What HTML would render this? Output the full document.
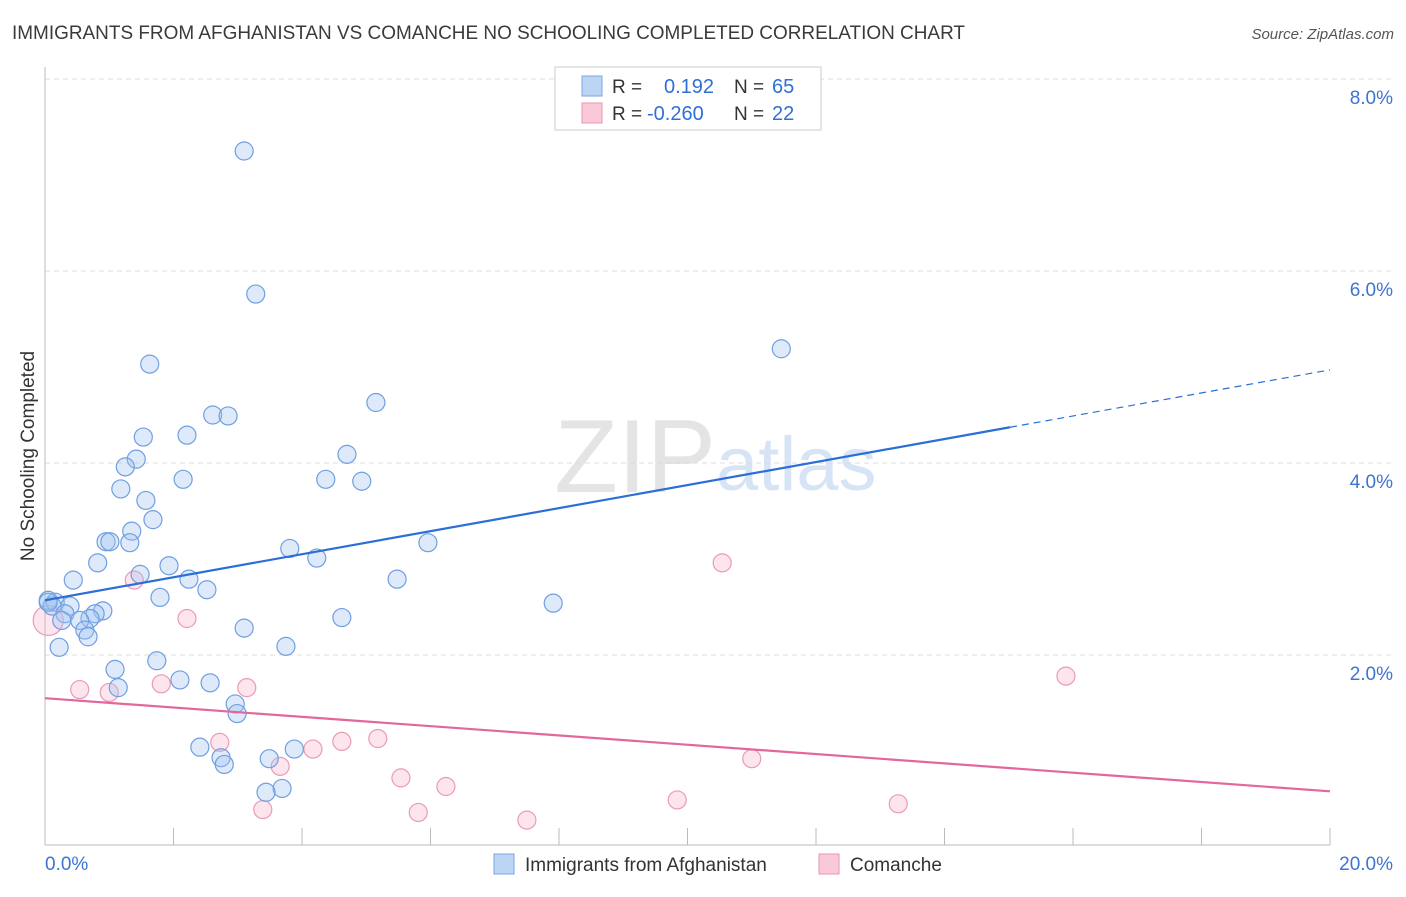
<!DOCTYPE html>
<html><head><meta charset="utf-8"><style>
body{margin:0;background:#fff;font-family:"Liberation Sans",sans-serif}
svg text{font-family:"Liberation Sans",sans-serif}
</style></head><body>
<svg id="chart" width="1406" height="892">
<text x="12" y="39" font-size="19" fill="#3a3a3a" textLength="953" lengthAdjust="spacingAndGlyphs">IMMIGRANTS FROM AFGHANISTAN VS COMANCHE NO SCHOOLING COMPLETED CORRELATION CHART</text>
<text x="1394" y="39" font-size="15" fill="#555" font-style="italic" text-anchor="end">Source: ZipAtlas.com</text>
<text x="716" y="492" font-size="104" fill="#e4e4e4" text-anchor="end" font-family="Liberation Serif">ZIP</text>
<text x="716" y="490" font-size="76" fill="#d6e4f5">atlas</text>
<text x="34" y="456" font-size="19" fill="#333" transform="rotate(-90 34 456)" text-anchor="middle">No Schooling Completed</text>
<g id="grid"></g><g id="pts"></g><g id="lines"></g>
<g>
<rect x="555" y="67" width="266" height="63" fill="#fff" stroke="#ccc"/>
<rect x="582" y="76" width="20" height="20" fill="#bcd5f5" stroke="#7aa7e0"/>
<rect x="582" y="103" width="20" height="20" fill="#f9c9d8" stroke="#eb96b2"/>
<text x="612" y="93" font-size="19" fill="#333">R = </text><text x="664" y="93" font-size="20" fill="#2f6fd6">0.192</text>
<text x="734" y="93" font-size="19" fill="#333">N = </text><text x="772" y="93" font-size="20" fill="#2f6fd6">65</text>
<text x="612" y="120" font-size="19" fill="#333">R = </text><text x="647" y="120" font-size="20" fill="#2f6fd6">-0.260</text>
<text x="734" y="120" font-size="19" fill="#333">N = </text><text x="772" y="120" font-size="20" fill="#2f6fd6">22</text>
</g>
<g>
<rect x="494" y="854" width="20" height="20" fill="#bcd5f5" stroke="#7aa7e0"/>
<text x="525" y="871" font-size="19" fill="#333">Immigrants from Afghanistan</text>
<rect x="819" y="854" width="20" height="20" fill="#f9c9d8" stroke="#eb96b2"/>
<text x="850" y="871" font-size="19" fill="#333">Comanche</text>
</g>
<text x="45" y="870" font-size="19" fill="#3d74d0">0.0%</text>
<text x="1393" y="870" font-size="19" fill="#3d74d0" text-anchor="end">20.0%</text>
</svg>
<script>
const blueX=[3.10,3.28,1.63,11.46,5.15,2.61,2.85,1.53,2.21,4.70,1.42,1.25,2.15,4.37,4.93,1.18,1.57,1.68,1.35,0.95,1.01,1.32,3.81,5.96,4.23,0.82,1.48,1.93,2.24,5.48,0.44,2.52,1.79,7.91,0.05,0.16,0.11,0.39,0.90,0.31,0.78,0.70,0.26,0.54,0.62,0.67,4.62,3.10,3.75,0.22,1.74,1.09,1.14,2.10,2.57,2.96,2.99,2.41,2.74,2.79,3.88,3.49,3.69,3.44,0.05];
const blueY=[7.25,5.76,5.03,5.19,4.63,4.50,4.49,4.27,4.29,4.09,4.04,3.96,3.83,3.83,3.81,3.73,3.61,3.41,3.29,3.18,3.18,3.17,3.11,3.17,3.01,2.96,2.84,2.93,2.79,2.79,2.78,2.68,2.60,2.54,2.57,2.55,2.51,2.51,2.46,2.43,2.43,2.38,2.36,2.36,2.26,2.19,2.39,2.28,2.09,2.08,1.94,1.85,1.66,1.74,1.71,1.49,1.39,1.04,0.93,0.86,1.02,0.92,0.61,0.57,2.55];
const pinkX=[0.05,1.39,2.21,10.54,15.89,0.54,1.00,1.81,3.14,2.72,4.17,4.62,5.18,3.66,5.54,6.24,11.00,9.84,13.28,3.39,5.81,7.50];
const pinkY=[2.36,2.78,2.38,2.96,1.78,1.64,1.61,1.70,1.66,1.09,1.02,1.10,1.13,0.84,0.72,0.63,0.92,0.49,0.45,0.39,0.36,0.28];
const yTicks=[2,4,6,8];
const yTickLabels=["2.0%","4.0%","6.0%","8.0%"];
const xTicks=[0,2,4,6,8,10,12,14,16,18,20];
const blueTrend=[2.57,4.97];
const blueSolidEnd=15.02;
const pinkTrend=[1.55,0.58];
const sx=v=>45+v*64.25, sy=v=>847-v*96;
const NS="http://www.w3.org/2000/svg";
function mk(t,a,p){const e=document.createElementNS(NS,t);for(const k in a)e.setAttribute(k,a[k]);p.appendChild(e);return e;}
const grid=document.getElementById('grid'),pts=document.getElementById('pts'),lines=document.getElementById('lines');
yTicks.forEach((v,i)=>{
 const l=mk('line',{x1:45,x2:1393,y1:sy(v),y2:sy(v),stroke:'#ddd','stroke-dasharray':'5,4'},grid);
 
 
 const t=mk('text',{x:1393,y:sy(v)+25,'font-size':19,fill:'#3d74d0','text-anchor':'end'},grid);t.textContent=yTickLabels[i];
 
 
});
const ax=mk('line',{x1:45,x2:45,y1:67,y2:845,stroke:'#bbb'},grid);


const bx=mk('line',{x1:45,x2:1330,y1:845,y2:845,stroke:'#bbb'},grid);


xTicks.forEach(v=>{const t=mk('line',{x1:sx(v),x2:sx(v),y1:828,y2:845,stroke:'#bbb'},grid);
 
 });
pinkX.forEach((x,i)=>{const c=mk('circle',{cx:sx(x),cy:sy(pinkY[i]),r:i==0?15:9,fill:'rgba(245,170,195,0.3)',stroke:'#eb9ab5','stroke-width':1.2},pts);
 
 });
blueX.forEach((x,i)=>{const c=mk('circle',{cx:sx(x),cy:sy(blueY[i]),r:9,fill:'rgba(160,195,240,0.35)',stroke:'#6f9fe0','stroke-width':1.2},pts);
 
 });
const by=x=>blueTrend[0]+(blueTrend[1]-blueTrend[0])*x/20;
const l1=mk('line',{x1:sx(0),y1:sy(by(0)),x2:sx(blueSolidEnd),y2:sy(by(blueSolidEnd)),stroke:'#2b6fd6','stroke-width':2.2},lines);


const l2=mk('line',{x1:sx(blueSolidEnd),y1:sy(by(blueSolidEnd)),x2:sx(20),y2:sy(by(20)),stroke:'#2b6fd6','stroke-width':1.2,'stroke-dasharray':'7,5'},lines);


const l3=mk('line',{x1:sx(0),y1:sy(pinkTrend[0]),x2:sx(20),y2:sy(pinkTrend[1]),stroke:'#e2679a','stroke-width':2.2},lines);


</script>
</body></html>
